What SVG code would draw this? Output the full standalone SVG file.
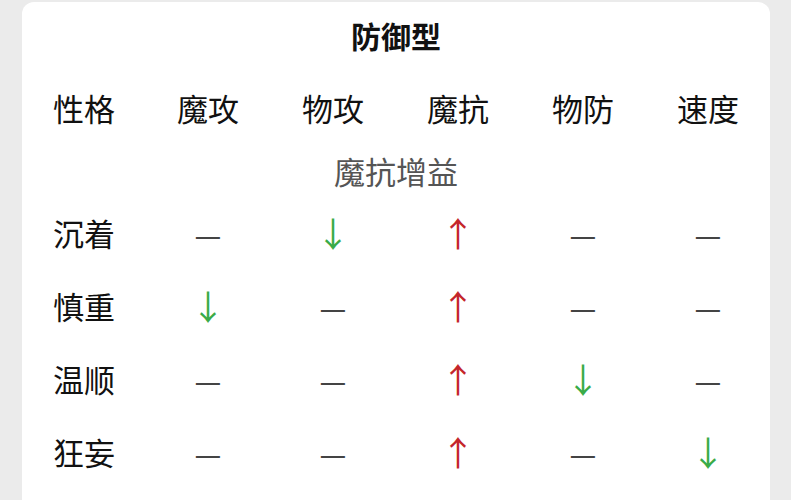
<svg xmlns="http://www.w3.org/2000/svg" width="791" height="500" viewBox="0 0 791 500">
<style>
text{font-family:"Noto Sans CJK SC","Noto Sans",sans-serif;text-anchor:middle}
.h{font-size:31px;fill:#111}
.t{font-size:30px;font-weight:bold;fill:#111}
.s{font-size:31px;fill:#555}
.d{font-size:30px;fill:#444}
.u{font-size:34px;fill:#c4252b}
.g{font-size:34px;fill:#3aab48}
</style>
<rect width="791" height="500" fill="#ebebeb"/>
<rect x="22" y="2" width="748" height="530" rx="12" fill="#fff"/>
<g id="title"><text class="t" x="396" y="48">防御型</text></g>
<g id="header">
<text class="h" x="84" y="121">性格</text><text class="h" x="208" y="121">魔攻</text><text class="h" x="333" y="121">物攻</text><text class="h" x="458" y="121">魔抗</text><text class="h" x="583" y="121">物防</text><text class="h" x="708" y="121">速度</text>
</g>
<g id="sub"><text class="s" x="396" y="184">魔抗增益</text></g>
<g id="r1"><text class="h" x="84" y="246">沉着</text><text class="d" x="208" y="246">—</text><text class="g" x="333" y="247">↓</text><text class="u" x="458" y="247">↑</text><text class="d" x="583" y="246">—</text><text class="d" x="708" y="246">—</text></g>
<g id="r2"><text class="h" x="84" y="319">慎重</text><text class="g" x="208" y="320">↓</text><text class="d" x="333" y="319">—</text><text class="u" x="458" y="320">↑</text><text class="d" x="583" y="319">—</text><text class="d" x="708" y="319">—</text></g>
<g id="r3"><text class="h" x="84" y="392">温顺</text><text class="d" x="208" y="392">—</text><text class="d" x="333" y="392">—</text><text class="u" x="458" y="393">↑</text><text class="g" x="583" y="393">↓</text><text class="d" x="708" y="392">—</text></g>
<g id="r4"><text class="h" x="84" y="465">狂妄</text><text class="d" x="208" y="465">—</text><text class="d" x="333" y="465">—</text><text class="u" x="458" y="466">↑</text><text class="d" x="583" y="465">—</text><text class="g" x="708" y="466">↓</text></g>
<g id="connectors"></g>
</svg>
